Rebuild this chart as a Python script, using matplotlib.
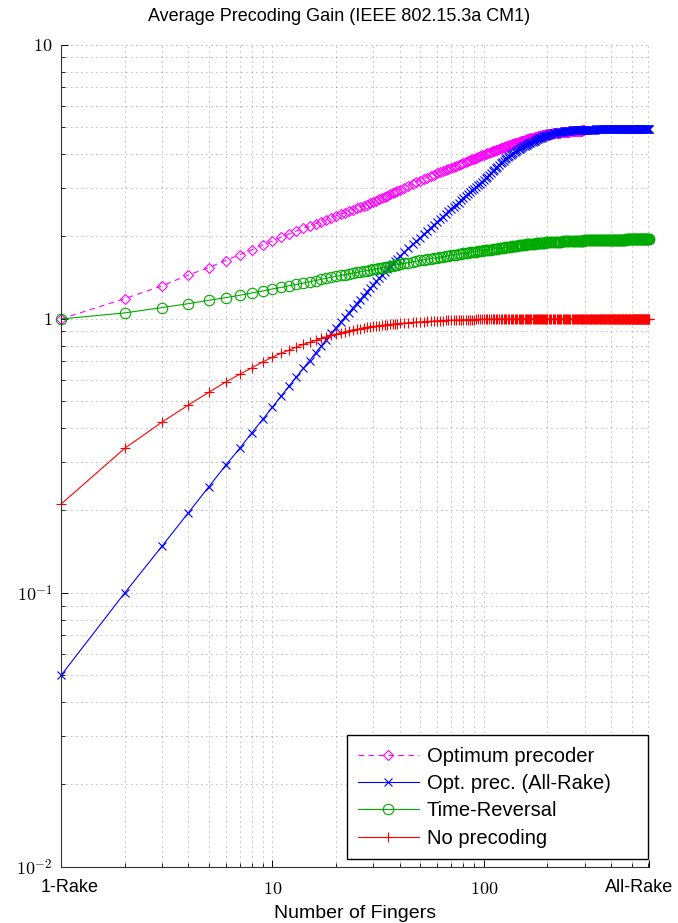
import matplotlib
matplotlib.use("Agg")
import matplotlib.pyplot as plt
from matplotlib.ticker import NullFormatter
from matplotlib.transforms import ScaledTranslation

plt.rcParams['font.family'] = ['Liberation Sans', 'DejaVu Sans']
plt.rcParams['mathtext.fontset'] = 'cm'

# number of fingers, All-Rake = 605 paths
fingers = (list(range(1, 41)) + list(range(42, 101, 2)) + list(range(102, 201, 2))
           + list(range(203, 606, 3)))
fingers_opt = [f for f in fingers if f <= 300]

# Optimum precoder (stops at 300 fingers)
optimum = ([1.000, 1.186, 1.320, 1.447, 1.540, 1.633, 1.717, 1.786, 1.862, 1.926,
            1.990, 2.045, 2.095, 2.140, 2.185, 2.225, 2.265, 2.300, 2.340, 2.380,
            2.410, 2.440, 2.470, 2.500, 2.530, 2.560, 2.585, 2.610, 2.640, 2.670,
            2.700, 2.730, 2.760, 2.790, 2.820, 2.850, 2.877, 2.905, 2.932, 2.960]
           + [3.01, 3.06, 3.11, 3.16, 3.20, 3.24, 3.28, 3.32, 3.36, 3.40,
              3.43, 3.47, 3.50, 3.54, 3.57, 3.60, 3.63, 3.66, 3.69, 3.72,
              3.75, 3.77, 3.80, 3.82, 3.85, 3.87, 3.90, 3.92, 3.95, 3.97]
           + [4.00, 4.02, 4.05, 4.07, 4.09, 4.11, 4.13, 4.15, 4.17, 4.19,
              4.21, 4.23, 4.25, 4.27, 4.29, 4.31, 4.32, 4.34, 4.36, 4.37,
              4.39, 4.40, 4.42, 4.43, 4.45, 4.46, 4.48, 4.49, 4.51, 4.52,
              4.53, 4.55, 4.56, 4.57, 4.58, 4.59, 4.61, 4.62, 4.63, 4.64,
              4.65, 4.66, 4.67, 4.68, 4.69, 4.70, 4.71, 4.72, 4.725, 4.73]
           + [4.74, 4.75, 4.75, 4.76, 4.77, 4.77, 4.78, 4.78, 4.79, 4.79,
              4.80, 4.80, 4.81, 4.81, 4.82, 4.82, 4.83, 4.83, 4.84, 4.84,
              4.84, 4.85, 4.85, 4.85, 4.86, 4.86, 4.86, 4.87, 4.87, 4.87,
              4.88, 4.88, 4.88])

# Opt. prec. (All-Rake)
opt_allrake = ([0.050, 0.100, 0.148, 0.196, 0.244, 0.292, 0.337, 0.385, 0.430, 0.477,
                0.524, 0.570, 0.615, 0.660, 0.705, 0.750, 0.795, 0.840, 0.885, 0.930,
                0.972, 1.014, 1.055, 1.096, 1.137, 1.177, 1.217, 1.256, 1.295, 1.333,
                1.371, 1.408, 1.445, 1.482, 1.518, 1.554, 1.589, 1.624, 1.658, 1.692]
               + [1.75, 1.81, 1.87, 1.92, 1.98, 2.04, 2.09, 2.15, 2.20, 2.26,
                  2.31, 2.36, 2.41, 2.47, 2.52, 2.57, 2.61, 2.66, 2.71, 2.76,
                  2.81, 2.85, 2.90, 2.95, 2.99, 3.04, 3.08, 3.12, 3.17, 3.21]
               + [3.26, 3.31, 3.36, 3.41, 3.46, 3.51, 3.56, 3.60, 3.65, 3.70,
                  3.74, 3.78, 3.82, 3.86, 3.90, 3.94, 3.97, 4.01, 4.04, 4.07,
                  4.10, 4.13, 4.16, 4.18, 4.21, 4.23, 4.26, 4.28, 4.31, 4.33,
                  4.35, 4.38, 4.40, 4.42, 4.44, 4.46, 4.48, 4.50, 4.52, 4.54,
                  4.56, 4.57, 4.59, 4.61, 4.62, 4.64, 4.65, 4.67, 4.68, 4.70]
               + [4.71, 4.73, 4.74, 4.76, 4.77, 4.78, 4.79, 4.80, 4.81, 4.82,
                  4.83, 4.83, 4.84, 4.85, 4.85, 4.86, 4.86, 4.87, 4.87, 4.88,
                  4.88, 4.88, 4.89, 4.89, 4.89, 4.89, 4.90, 4.90, 4.90, 4.90,
                  4.90, 4.91, 4.91, 4.91, 4.91, 4.91, 4.91, 4.91, 4.91, 4.91,
                  4.91, 4.91, 4.91, 4.91, 4.91, 4.92, 4.92, 4.92, 4.92, 4.92]
               + [4.92] * 15 + [4.93] * 25 + [4.94] * 45)

# Time-Reversal
time_rev = ([1.000, 1.052, 1.100, 1.137, 1.170, 1.196, 1.220, 1.245, 1.265, 1.287,
             1.304, 1.321, 1.337, 1.352, 1.367, 1.381, 1.395, 1.407, 1.419, 1.431,
             1.441, 1.451, 1.460, 1.469, 1.478, 1.486, 1.494, 1.502, 1.509, 1.517,
             1.524, 1.531, 1.538, 1.545, 1.552, 1.559, 1.565, 1.572, 1.578, 1.584]
            + [1.595, 1.606, 1.616, 1.626, 1.635, 1.643, 1.651, 1.659, 1.667, 1.675,
               1.681, 1.688, 1.694, 1.700, 1.706, 1.712, 1.718, 1.724, 1.730, 1.735,
               1.740, 1.744, 1.749, 1.753, 1.758, 1.762, 1.766, 1.770, 1.774, 1.778]
            + [1.782, 1.785, 1.789, 1.792, 1.796, 1.800, 1.803, 1.807, 1.810, 1.814,
               1.817, 1.821, 1.824, 1.828, 1.831, 1.834, 1.837, 1.840, 1.843, 1.847,
               1.850, 1.853, 1.856, 1.859, 1.862, 1.864, 1.866, 1.868, 1.870, 1.872,
               1.874, 1.876, 1.878, 1.880, 1.882, 1.883, 1.885, 1.887, 1.888, 1.890,
               1.892, 1.893, 1.895, 1.896, 1.898, 1.899, 1.901, 1.902, 1.904, 1.905]
            + [1.906, 1.907, 1.908, 1.909, 1.910, 1.912, 1.913, 1.914, 1.915, 1.916,
               1.917, 1.918, 1.919, 1.920, 1.921, 1.922, 1.922, 1.923, 1.924, 1.925,
               1.926, 1.927, 1.927, 1.928, 1.929, 1.929, 1.930, 1.931, 1.931, 1.932,
               1.933, 1.933, 1.934, 1.934, 1.935, 1.935, 1.936, 1.936, 1.937, 1.937,
               1.938, 1.938, 1.938, 1.939, 1.939, 1.940, 1.940, 1.940, 1.941, 1.941,
               1.941, 1.942, 1.942, 1.942, 1.943, 1.943, 1.943, 1.943, 1.944, 1.944,
               1.944, 1.944, 1.945, 1.945, 1.945, 1.945, 1.946, 1.946, 1.946, 1.946,
               1.946, 1.947, 1.947, 1.947, 1.947, 1.947, 1.948, 1.948, 1.948, 1.948,
               1.948, 1.948, 1.949, 1.949, 1.949, 1.949, 1.949, 1.949, 1.949, 1.949]
            + [1.950] * 45)

# No precoding
no_prec = ([0.211, 0.337, 0.420, 0.485, 0.540, 0.588, 0.628, 0.664, 0.697, 0.725,
            0.750, 0.770, 0.790, 0.807, 0.822, 0.836, 0.849, 0.861, 0.872, 0.882,
            0.890, 0.898, 0.905, 0.911, 0.917, 0.922, 0.927, 0.931, 0.935, 0.939,
            0.942, 0.945, 0.948, 0.950, 0.953, 0.955, 0.957, 0.959, 0.961, 0.963]
           + [0.966, 0.969, 0.972, 0.974, 0.976, 0.978, 0.980, 0.982, 0.983, 0.985,
              0.986, 0.987, 0.988, 0.989, 0.990, 0.991, 0.991, 0.992, 0.993, 0.993,
              0.994, 0.994, 0.995, 0.995, 0.995, 0.996, 0.996, 0.996, 0.997, 0.997]
           + [0.997, 0.997, 0.997, 0.998, 0.998, 0.998, 0.998, 0.998, 0.998, 0.998]
           + [0.999] * 10 + [1.000] * 165)

labels = ['Optimum precoder', 'Opt. prec. (All-Rake)', 'Time-Reversal', 'No precoding']
xtick_pos = [1, 10, 100, 605]
xtick_txt = ['', '$10$', '$100$', '']
ytick_pos = [0.01, 0.1, 1, 10]
ytick_txt = ['$10^{-2}$', '$10^{-1}$', '$1$', '$10$']

fig = plt.figure(figsize=(6.78, 9.23), dpi=100)
ax = fig.add_axes([0.0900, 0.0607, 0.8673, 0.8906])

ax.plot(fingers_opt, optimum, color='#FF00FF', linestyle=(0, (5, 4)), lw=0.8,
        marker='D', ms=5, mfc='none', mew=0.8, clip_on=False, label=labels[0])
ax.plot(fingers, opt_allrake, color='#0000FF', lw=0.8,
        marker='x', ms=5.5, mew=0.8, clip_on=False, label=labels[1])
ax.plot(fingers, time_rev, color='#00AA00', lw=0.8,
        marker='o', ms=7.5, mfc='none', mew=0.8, clip_on=False, label=labels[2])
ax.plot(fingers, no_prec, color='#FF0000', lw=0.8,
        marker='+', ms=7, mew=0.8, clip_on=False, label=labels[3])

ax.set_xscale('log')
ax.set_yscale('log')
ax.set_xlim(1, 605)
ax.set_ylim(0.01, 10)

ax.set_xticks(xtick_pos)
ax.set_xticklabels(xtick_txt, fontsize=13)
ax.set_yticks(ytick_pos)
ax.set_yticklabels(ytick_txt, fontsize=13)
ax.xaxis.set_minor_formatter(NullFormatter())
ax.yaxis.set_minor_formatter(NullFormatter())

# the two end labels, nudged inside the figure like the original
xtr = ax.get_xaxis_transform()
ax.text(xtick_pos[0], 0, '1-Rake', fontsize=13, ha='left', va='baseline',
        transform=xtr + ScaledTranslation(-0.20, -0.25, fig.dpi_scale_trans))
ax.text(xtick_pos[-1], 0, 'All-Rake', fontsize=13, ha='right', va='baseline',
        transform=xtr + ScaledTranslation(0.24, -0.25, fig.dpi_scale_trans))

ax.tick_params(which='both', direction='in', top=False, right=False)
ax.tick_params(which='major', length=5, width=0.7)
ax.tick_params(which='minor', length=3, width=0.6)
ax.tick_params(axis='x', pad=10)
ax.tick_params(axis='y', pad=6)

ax.spines['top'].set_visible(False)
ax.spines['right'].set_visible(False)
ax.spines['left'].set_color('0.2')
ax.spines['bottom'].set_color('0.2')

ax.grid(True, which='both', linestyle=(0, (1, 5)), color='0.45', linewidth=0.6)

ax.set_title('Average Precoding Gain (IEEE 802.15.3a CM1)', fontsize=13, pad=17, x=0.473)
ax.set_xlabel('Number of Fingers', fontsize=14, labelpad=5)

leg = ax.legend(loc='lower left', bbox_to_anchor=(0.4864, 0.0097, 0.512, 0.146),
                mode='expand', borderaxespad=0,
                fontsize=14.5, fancybox=False, edgecolor='black', framealpha=1,
                handlelength=3.0, handletextpad=0.4, labelspacing=0.42, borderpad=0.55)
leg.get_frame().set_linewidth(1.0)

fig.savefig('out.png', dpi=100)
